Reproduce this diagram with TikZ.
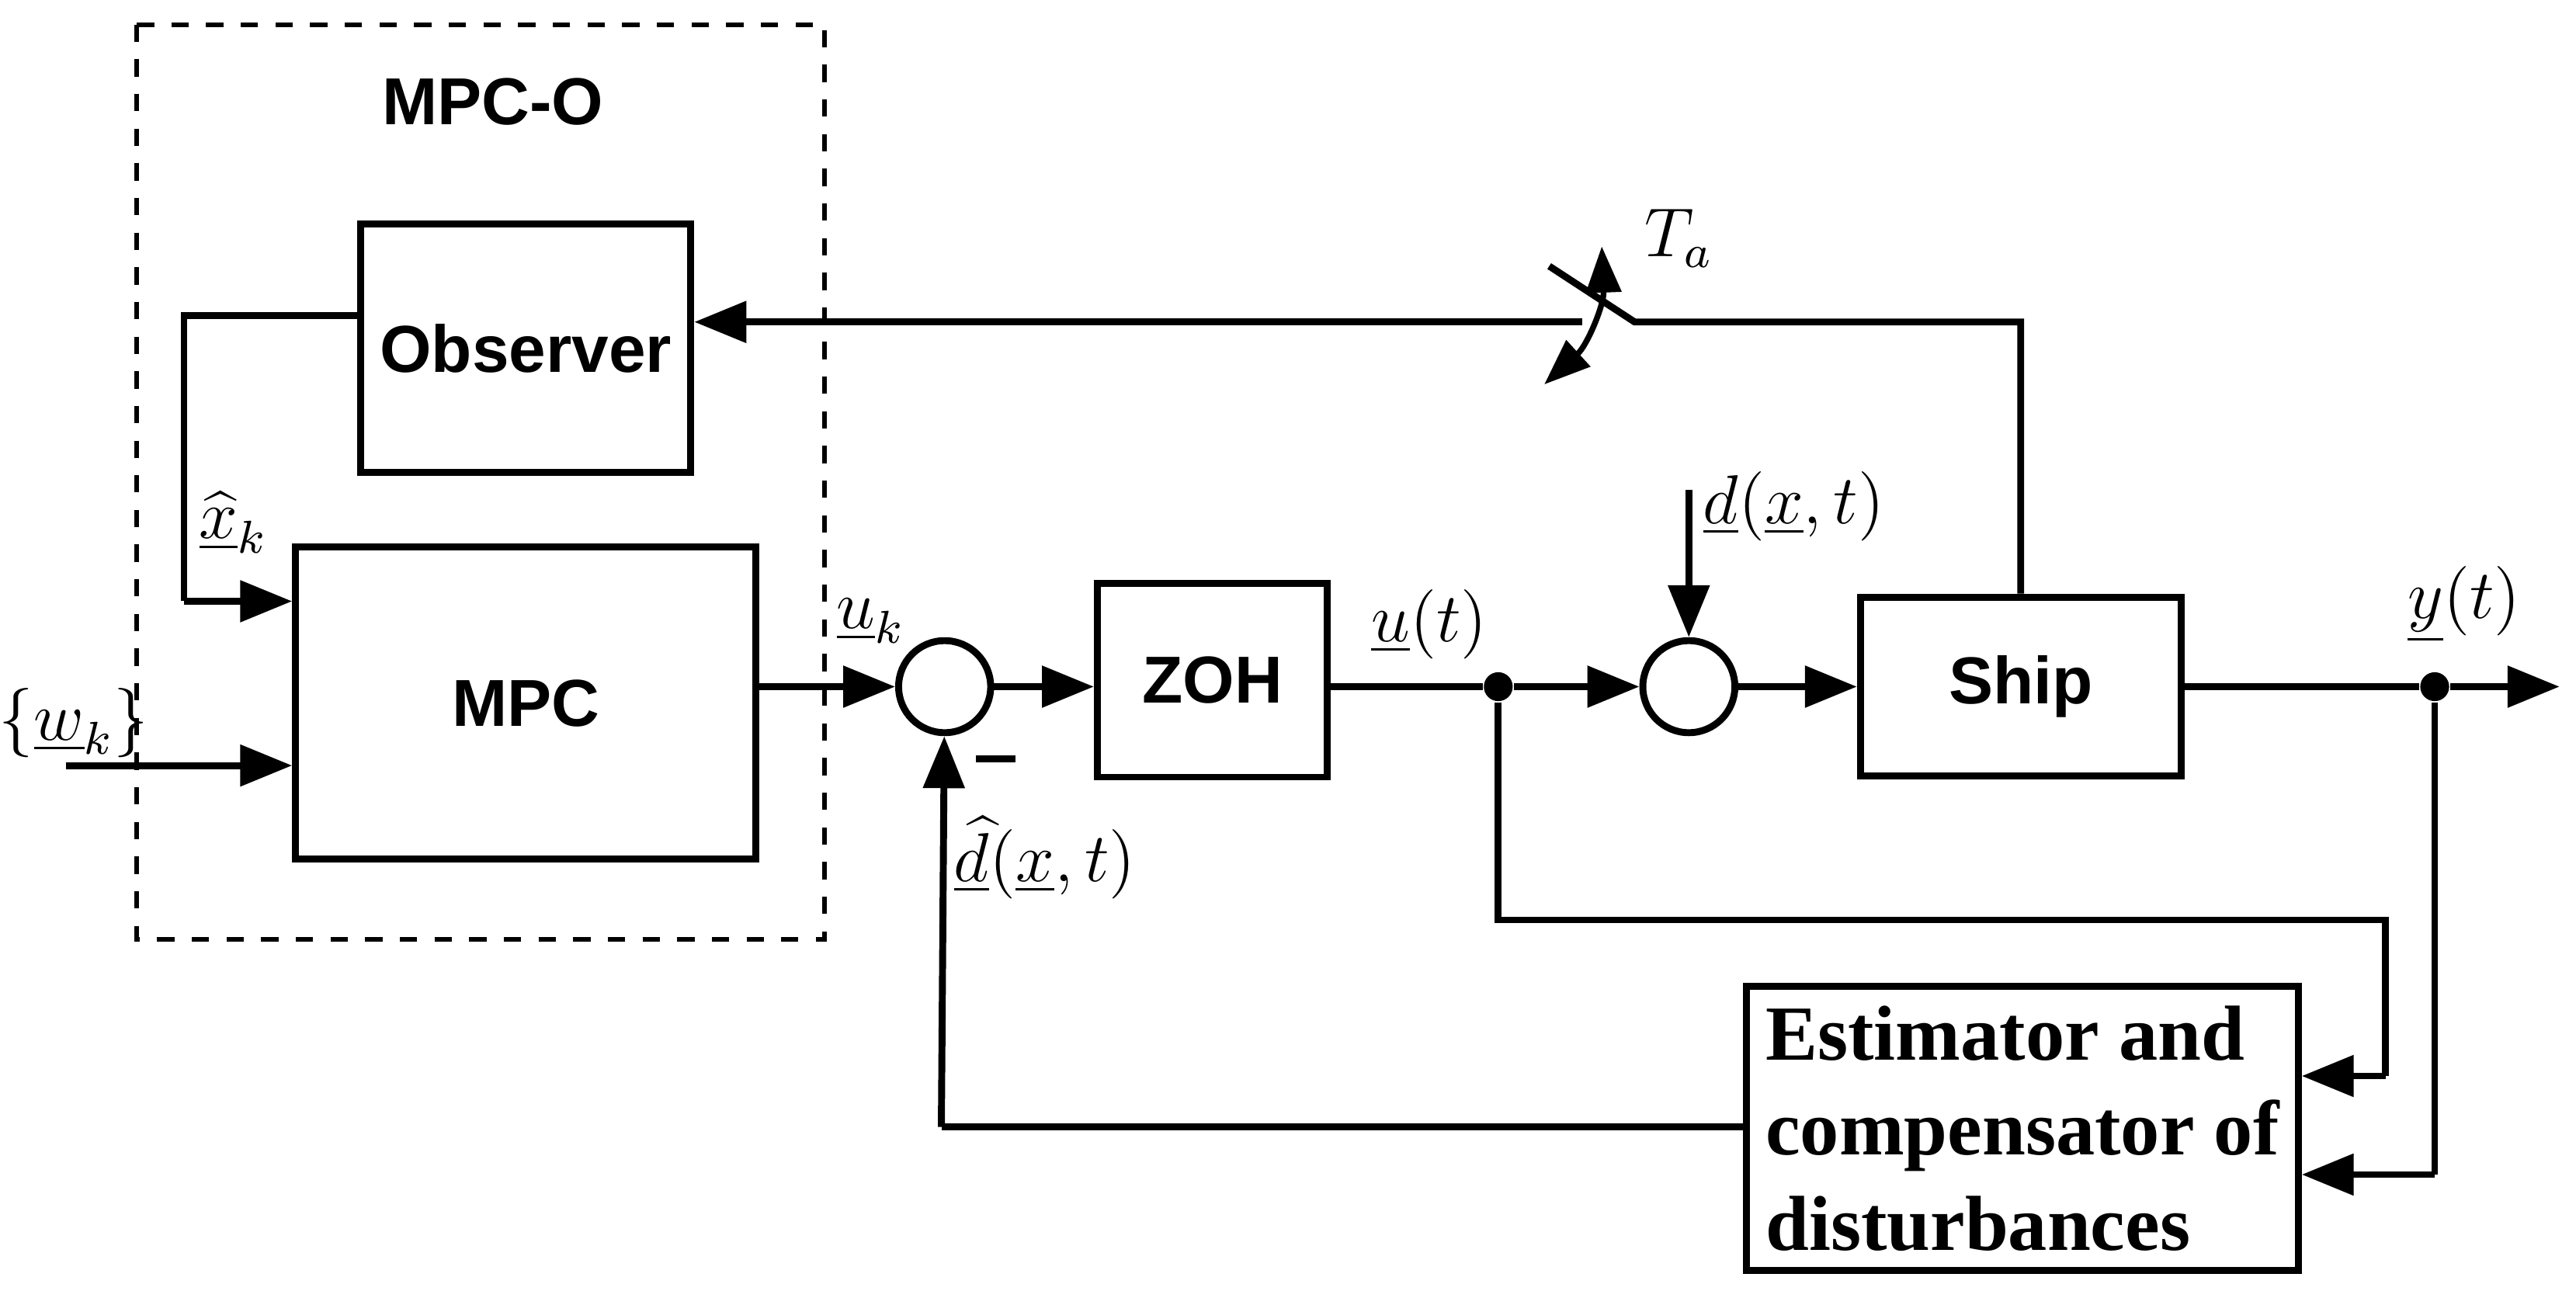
\documentclass[tikz,border=0pt]{standalone}
\usepackage{fontspec}
\setmainfont{Liberation Serif}
\newfontfamily\blocksans{Liberation Sans}
\usetikzlibrary{arrows.meta, positioning}
\tikzset{
    block/.style={rectangle, draw, line width=1.2pt, font=\blocksans\bfseries\fontsize{11.5}{14}\selectfont},
    sumnode/.style={circle, draw, line width=1.2pt, minimum size=0.56cm, inner sep=0pt},
    dot/.style={circle, fill, inner sep=0pt, minimum size=5pt},
    arrow/.style={-{Triangle[length=9pt,width=7pt]}, line width=1.2pt},
    line/.style={line width=1.2pt}
}
\begin{document}
\begin{tikzpicture}[x=0.01cm, y=-0.01cm, font=\large]
            \useasboundingbox (0,0) rectangle (1568,794);
            \draw[dashed, line width=0.8pt] (83,15) rectangle (502,572);
            \node (mpco) at (300,62) {\blocksans\bfseries\fontsize{11.5}{14}\selectfont MPC-O};
            \node (obs) [block, minimum width=1.96cm, minimum height=1.51cm] at (320,212) {Observer};
            \node (mpc) [block, minimum width=2.8cm, minimum height=1.9cm] at (320,428) {MPC};
            \node (sum1) [sumnode] at (575,418) {};
            \node (zoh) [block, minimum width=1.4cm, minimum height=1.18cm] at (738,414) {ZOH};
            \node (split1) [dot] at (912,418) {};
            \node (sum2) [sumnode] at (1028,418) {};
            \node (ship) [block, minimum width=1.95cm, minimum height=1.09cm] at (1230,418) {Ship};
            \node (split2) [dot] at (1482,418) {};
            \node (est) [block, font=\bfseries\fontsize{13.5}{16.5}\selectfont, minimum width=3.34cm, minimum height=1.73cm, align=left] at (1231,687) {Estimator and\\compensator of\\disturbances};
            \coordinate (win) at (40,466);
            \coordinate (yout) at (1558,418);
            \coordinate (dtop) at (1028,298);
            \coordinate (swa) at (995,196);
            \coordinate (swb) at (963,196);
            \coordinate (swtip) at (943,162);

            \draw[line] (obs.west |- 0,192) -- (112,192) -- (112,366) coordinate (xk);
            \draw[arrow] (xk) -- (mpc.west |- xk);
            \draw[arrow] (win) -- (mpc.west |- win);
            \draw[arrow] (mpc.east |- sum1) -- (sum1);
            \draw[arrow] (sum1) -- (zoh.west |- sum1);
            \draw[line] (zoh.east |- split1) -- (split1);
            \draw[arrow] (split1) -- (sum2);
            \draw[arrow] (dtop) -- (sum2);
            \draw[arrow] (sum2) -- (ship.west |- sum2);
            \draw[line] (ship.east |- split2) -- (split2);
            \draw[arrow] (split2) -- (yout);
            % sampler
            \draw[line] (ship.north) -- (ship.north |- swa) -- (swa) -- (swtip);
            \draw[arrow] (swb) -- (obs.east |- swb);
            \draw[{Triangle[length=8pt,width=6pt]}-{Triangle[length=8pt,width=6pt]}, line width=1pt] (975,150) to[bend left=25] (940,234);
            % estimator loop
            \draw[line] (split1) -- (912,560) -- (1452,560) -- (1452,655) coordinate (e1);
            \draw[arrow] (e1) -- (est.east |- e1);
            \draw[line] (split2) -- (1482,715) coordinate (e2);
            \draw[arrow] (e2) -- (est.east |- e2);
            \draw[line] (est.west |- 0,686) -- (573,686) coordinate (e3);
            \draw[arrow] (e3) -- (sum1);
            \draw[line] (594,462) -- (618,462);

            \node at (142,318) {$\underline{\widehat{x}}_{k}$};
            \node at (45,440) {$\{\underline{w}_{k}\}$};
            \node at (530,378) {$\underline{u}_{k}$};
            \node at (870,380) {$\underline{u}(t)$};
            \node at (1092,308) {$\underline{d}(\underline{x},t)$};
            \node at (1500,368) {$\underline{y}(t)$};
            \node at (1022,145) {$T_a$};
            \node at (636,522) {$\underline{\widehat{d}}(\underline{x},t)$};
        \end{tikzpicture}
\end{document}
